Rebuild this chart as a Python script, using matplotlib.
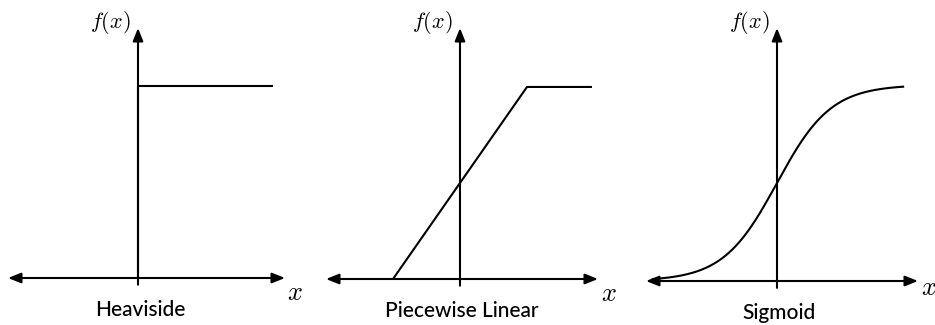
import numpy as np
import matplotlib
matplotlib.use("Agg")
import matplotlib.pyplot as plt

plt.rcParams["mathtext.fontset"] = "cm"

# panel names
titles = ["Heaviside", "Piecewise Linear", "Sigmoid"]

# Heaviside step
step_x = [0.0, 0.0, 2.7]
step_y = [0.0, 1.0, 1.0]

# piecewise linear ramp
ramp_x = [-1.0, 1.0, 1.97]
ramp_y = [0.0, 1.0, 1.0]

# sigmoid drawn over this x range (logistic function)
sig_range = (-4.6, 4.67)

# axes extents for each panel: (xmin, xmax, ytop)
extents = [(-2.6, 2.94, 1.302), (-2.0, 2.06, 1.307), (-4.85, 5.22, 1.29)]
# panel boxes in pixels (left, bottom, width, height) on a 935x325 canvas
boxes = [(8, 47, 277, 250), (326, 46, 272, 251), (646, 44, 272, 253)]
xlabel_off = [(2, -15), (3, -15), (3, -7)]

W, H = 935, 325
fig = plt.figure(figsize=(W / 100, H / 100), dpi=100)

lw = 1.5
arrow = dict(arrowstyle="-|>,head_length=0.55,head_width=0.22", color="black",
             lw=lw, shrinkA=0, shrinkB=0, mutation_scale=14)
arrow2 = dict(arrow, arrowstyle="<|-|>,head_length=0.55,head_width=0.22")

for i, title in enumerate(titles):
    l, b, w, h = boxes[i]
    ax = fig.add_axes([l / W, b / H, w / W, h / H])
    xmin, xmax, ytop = extents[i]
    ax.set_xlim(xmin, xmax)
    ax.set_ylim(0, ytop)
    ax.axis("off")

    # x axis, two-headed
    ax.annotate("", xy=(xmax, 0), xytext=(xmin, 0), arrowprops=arrow2,
                annotation_clip=False)
    # y axis, arrow at top, small tail below x axis
    ax.annotate("", xy=(0, ytop), xytext=(0, -0.035), arrowprops=arrow,
                annotation_clip=False)

    if i == 0:
        ax.plot(step_x, step_y, color="black", lw=lw, clip_on=False,
                solid_capstyle="butt")
    elif i == 1:
        ax.plot(ramp_x, ramp_y, color="black", lw=lw, clip_on=False,
                solid_capstyle="butt")
    else:
        xs = np.linspace(sig_range[0], sig_range[1], 400)
        ax.plot(xs, 1 / (1 + np.exp(-xs)), color="black", lw=lw, clip_on=False)

    ax.annotate(r"$f(x)$", xy=(0, ytop), xytext=(-7, 6), textcoords="offset pixels",
                ha="right", va="center", fontsize=16, annotation_clip=False)
    ax.annotate(r"$x$", xy=(xmax, 0), xytext=xlabel_off[i], textcoords="offset pixels",
                ha="left", va="center", fontsize=19, annotation_clip=False)
    ax.annotate(title, xy=(0, 0), xytext=(2, -32), textcoords="offset pixels",
                ha="center", va="center", fontsize=15, family="Lato",
                weight="medium", annotation_clip=False)

fig.savefig("out.png", dpi=100)
